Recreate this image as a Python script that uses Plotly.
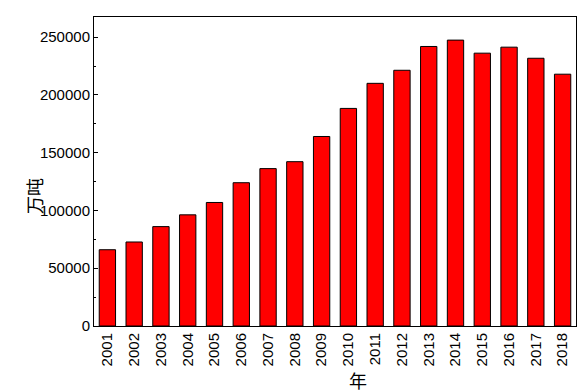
import plotly.graph_objects as go

years = [2001, 2002, 2003, 2004, 2005, 2006, 2007, 2008, 2009,
         2010, 2011, 2012, 2013, 2014, 2015, 2016, 2017, 2018]
values = [66000, 72700, 86000, 96200, 106900, 124000, 136200, 142200, 164000,
          188300, 210000, 221300, 241900, 247400, 236100, 241300, 231700, 217900]
y_ticks = [0, 50000, 100000, 150000, 200000, 250000]
x_title = "年"
y_title = "万吨"

fig = go.Figure(go.Bar(
    x=years, y=values, width=0.61,
    marker=dict(color="#ff0000", line=dict(color="black", width=1)),
))

fig.update_layout(
    width=588, height=392,
    margin=dict(l=94, r=12, t=17, b=66),
    plot_bgcolor="white", paper_bgcolor="white",
    showlegend=False,
    font=dict(family="Liberation Sans, Arial", size=15, color="black"),
)
fig.update_xaxes(
    range=[2000.5, 2018.5], tickmode="array", tickvals=years,
    ticktext=[str(y) for y in years], tickangle=-90,
    showline=True, linecolor="black", linewidth=1, mirror=True,
    showgrid=False, ticks="", zeroline=False, automargin=False,
)
fig.update_yaxes(
    range=[0, 267400], tickmode="array", tickvals=y_ticks,
    ticktext=[str(v) for v in y_ticks],
    showline=True, linecolor="black", linewidth=1, mirror=True,
    showgrid=False, ticks="inside", ticklen=4, tickcolor="black", zeroline=False,
    minor=dict(ticks="inside", ticklen=2, dtick=25000, tickcolor="black"),
    automargin=False,
)
fig.add_annotation(text=x_title, xref="paper", yref="paper", x=0.547, y=-0.175,
                   yanchor="middle", xanchor="center", showarrow=False,
                   font=dict(family="Noto Sans CJK SC", size=18))
fig.add_annotation(text=y_title, xref="paper", yref="paper", x=-0.123, y=0.42,
                   xanchor="center", yanchor="middle", showarrow=False, textangle=-90,
                   font=dict(family="Noto Sans CJK SC", size=18))

fig.write_html("out.html", config={"displayModeBar": False},
               post_script="document.body.style.margin='0';")
